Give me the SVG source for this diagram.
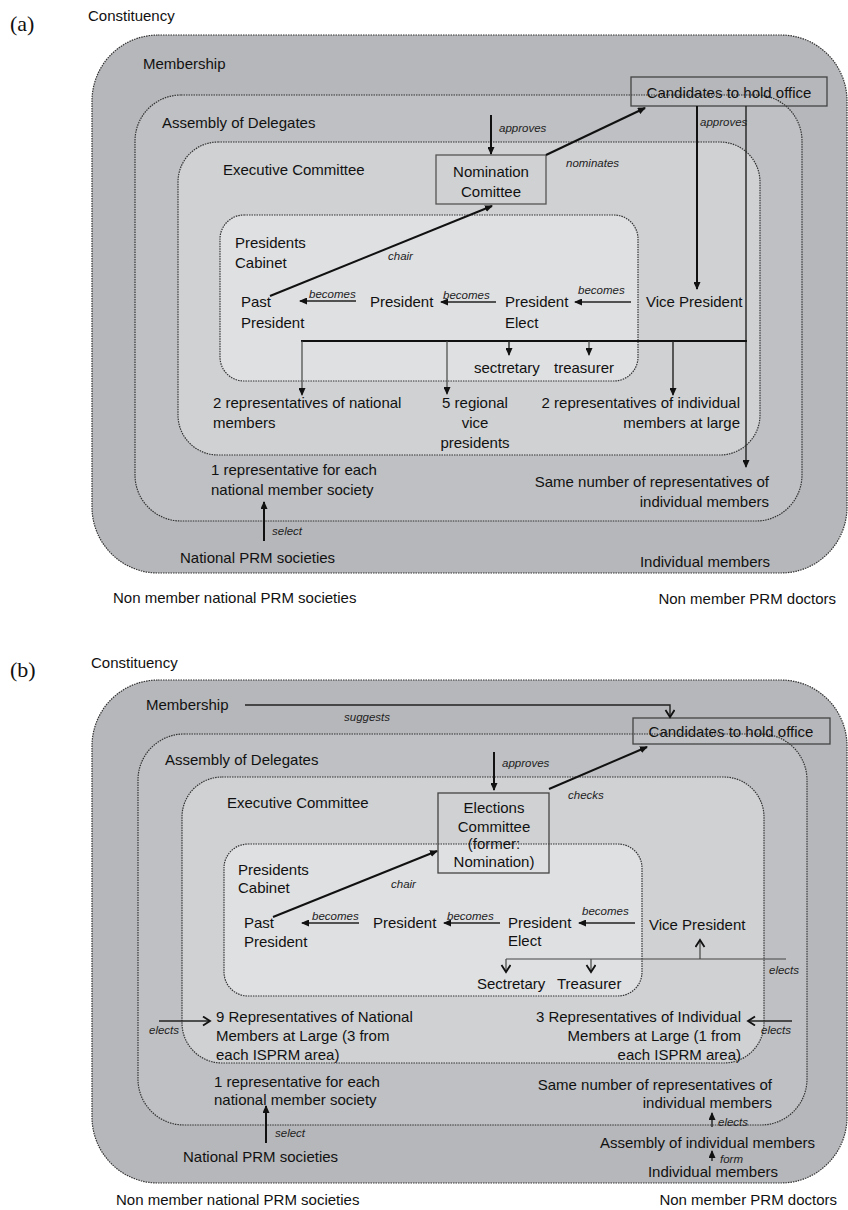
<svg xmlns="http://www.w3.org/2000/svg" width="848" height="1210" viewBox="0 0 848 1210">
<defs>
<style>
.t{font-family:"Liberation Sans",Arial,sans-serif;font-size:15px;fill:#111}
.i{font-family:"Liberation Sans",Arial,sans-serif;font-size:11.5px;font-style:italic;fill:#222}
.m{text-anchor:middle}
.e{text-anchor:end}
.lab{font-family:"Liberation Serif","Times New Roman",serif;font-size:22px;fill:#111}
.c1{fill:#b6b7ba;stroke:#333;stroke-width:1.2;stroke-dasharray:1.5 1}
.c2{fill:#bec0c3;stroke:#333;stroke-width:1.2;stroke-dasharray:1.5 1}
.c3{fill:#d0d1d3;stroke:#333;stroke-width:1.2;stroke-dasharray:1.5 1}
.c4{fill:#dfe0e2;stroke:#333;stroke-width:1.2;stroke-dasharray:1.5 1}
.box{fill:none;stroke:#444;stroke-width:1.3}
.bx2{fill:#d0d1d3;stroke:#555;stroke-width:1.3}
.k{fill:none;stroke:#111;stroke-width:2}
.k1{fill:none;stroke:#222;stroke-width:1.4}
.g{fill:none;stroke:#444;stroke-width:1.2}
</style>
<marker id="a" markerUnits="userSpaceOnUse" markerWidth="8" markerHeight="7" refX="7" refY="3.5" orient="auto">
<path d="M0,0 L8,3.5 L0,7 z" fill="#111"/>
</marker>
<marker id="o" markerUnits="userSpaceOnUse" markerWidth="12" markerHeight="12" refX="8" refY="5" orient="auto">
<path d="M1,0.5 L8,5 L1,9.5" fill="none" stroke="#111" stroke-width="1.8"/>
</marker>
</defs>

<!-- Panel (a) -->
<g id="panel-a">
<text class="lab" x="10" y="31">(a)</text>
<text class="t" x="88" y="21">Constituency</text>
<g id="a-membership"><rect class="c1" x="92" y="35" width="755" height="538" rx="66"/><text class="t" x="143" y="69">Membership</text></g>
<g id="a-assembly"><rect class="c2" x="135" y="95" width="667" height="426" rx="46"/><text class="t" x="162" y="128">Assembly of Delegates</text></g>
<g id="a-executive"><rect class="c3" x="178" y="142" width="582" height="313" rx="40"/><text class="t" x="223" y="175">Executive Committee</text></g>
<g id="a-cabinet"><rect class="c4" x="220" y="215" width="418" height="166" rx="24"/><text class="t" x="235" y="248">Presidents</text><text class="t" x="235" y="268">Cabinet</text></g>
<g id="a-candidates"><rect class="box" x="631" y="77" width="196" height="29"/><text class="t m" x="729" y="98">Candidates to hold office</text></g>
<g id="a-nomination"><rect class="bx2" x="436" y="155" width="110" height="49"/><text class="t m" x="491" y="177">Nomination</text><text class="t m" x="491" y="197">Comittee</text></g>
<g id="a-past"><text class="t" x="241" y="307">Past</text><text class="t" x="241" y="328">President</text></g>
<g id="a-president"><text class="t" x="370" y="307">President</text></g>
<g id="a-elect"><text class="t" x="505" y="307">President</text><text class="t" x="505" y="328">Elect</text></g>
<g id="a-vice"><text class="t" x="646" y="307">Vice President</text></g>
<g id="a-secretary"><text class="t" x="474" y="373">sectretary</text></g>
<g id="a-treasurer"><text class="t" x="554" y="373">treasurer</text></g>
<g id="a-natrep"><text class="t" x="213" y="408">2 representatives of national</text><text class="t" x="213" y="428">members</text></g>
<g id="a-regional"><text class="t m" x="475" y="408">5 regional</text><text class="t m" x="475" y="428">vice</text><text class="t m" x="475" y="448">presidents</text></g>
<g id="a-indrep"><text class="t e" x="740" y="408">2 representatives of individual</text><text class="t e" x="740" y="428">members at large</text></g>
<g id="a-onerep"><text class="t" x="211" y="475">1 representative for each</text><text class="t" x="211" y="495">national member society</text></g>
<g id="a-samenum"><text class="t e" x="769" y="487">Same number of representatives of</text><text class="t e" x="769" y="507">individual members</text></g>
<g id="a-national"><text class="t" x="180" y="563">National PRM societies</text></g>
<g id="a-individual"><text class="t e" x="770" y="567">Individual members</text></g>
<g id="a-nonnat"><text class="t" x="113" y="603">Non member national PRM societies</text></g>
<g id="a-nondoc"><text class="t e" x="836" y="604">Non member PRM doctors</text></g>
</g>

<g id="connectors-a">
<line class="k" x1="491" y1="115" x2="491" y2="154" marker-end="url(#a)"/>
<text class="i" x="499" y="132">approves</text>
<line class="k" x1="546" y1="155" x2="645" y2="108" marker-end="url(#a)"/>
<text class="i" x="566" y="167">nominates</text>
<line class="k" x1="697" y1="106" x2="697" y2="289" marker-end="url(#a)"/>
<text class="i" x="700" y="126">approves</text>
<line class="k1" x1="746" y1="106" x2="746" y2="467" marker-end="url(#a)"/>
<line class="k" x1="301" y1="341" x2="747" y2="341"/>
<line class="g" x1="302" y1="341" x2="302" y2="395" marker-end="url(#a)"/>
<line class="g" x1="447" y1="341" x2="447" y2="394" marker-end="url(#a)"/>
<line class="k1" x1="509" y1="341" x2="509" y2="355" marker-end="url(#a)"/>
<line class="g" x1="589" y1="341" x2="589" y2="355" marker-end="url(#a)"/>
<line class="k1" x1="673" y1="341" x2="673" y2="395" marker-end="url(#a)"/>
<line class="k1" x1="356" y1="301" x2="300" y2="301" marker-end="url(#a)"/>
<text class="i" x="309" y="298">becomes</text>
<line class="k1" x1="496" y1="302" x2="441" y2="302" marker-end="url(#a)"/>
<text class="i" x="443" y="299">becomes</text>
<line class="k1" x1="631" y1="302" x2="575" y2="302" marker-end="url(#a)"/>
<text class="i" x="578" y="294">becomes</text>
<line class="k" x1="270" y1="296" x2="492" y2="206" marker-end="url(#a)"/>
<text class="i" x="388" y="260">chair</text>
<line class="k" x1="264" y1="541" x2="264" y2="502" marker-end="url(#a)"/>
<text class="i" x="272" y="535">select</text>
</g>

<!-- Panel (b) -->
<g id="panel-b">
<text class="lab" x="10" y="677">(b)</text>
<text class="t" x="91" y="668">Constituency</text>
<g id="b-membership"><rect class="c1" x="92" y="680" width="755" height="503" rx="66"/><text class="t" x="146" y="710">Membership</text></g>
<g id="b-assembly"><rect class="c2" x="138" y="734" width="669" height="391" rx="46"/><text class="t" x="165" y="765">Assembly of Delegates</text></g>
<g id="b-executive"><rect class="c3" x="182" y="777" width="582" height="286" rx="40"/><text class="t" x="227" y="808">Executive Committee</text></g>
<g id="b-cabinet"><rect class="c4" x="224" y="844" width="418" height="152" rx="24"/><text class="t" x="238" y="875">Presidents</text><text class="t" x="238" y="893">Cabinet</text></g>
<g id="b-candidates"><rect class="box" x="633" y="718" width="197" height="26"/><text class="t m" x="731" y="737">Candidates to hold office</text></g>
<g id="b-elections"><rect class="box" x="438" y="793" width="111" height="80"/><text class="t m" x="494" y="813">Elections</text><text class="t m" x="494" y="832">Committee</text><text class="t m" x="494" y="849">(former:</text><text class="t m" x="494" y="867">Nomination)</text></g>
<g id="b-past"><text class="t" x="244" y="928">Past</text><text class="t" x="244" y="947">President</text></g>
<g id="b-president"><text class="t" x="373" y="928">President</text></g>
<g id="b-elect"><text class="t" x="508" y="928">President</text><text class="t" x="508" y="946">Elect</text></g>
<g id="b-vice"><text class="t" x="649" y="930">Vice President</text></g>
<g id="b-secretary"><text class="t" x="477" y="989">Sectretary</text></g>
<g id="b-treasurer"><text class="t" x="557" y="989">Treasurer</text></g>
<g id="b-natrep"><text class="t" x="216" y="1022">9 Representatives of National</text><text class="t" x="216" y="1041">Members at Large (3 from</text><text class="t" x="216" y="1060">each ISPRM area)</text></g>
<g id="b-indrep"><text class="t e" x="741" y="1022">3 Representatives of Individual</text><text class="t e" x="741" y="1041">Members at Large (1 from</text><text class="t e" x="741" y="1060">each ISPRM area)</text></g>
<g id="b-onerep"><text class="t" x="214" y="1087">1 representative for each</text><text class="t" x="214" y="1105">national member society</text></g>
<g id="b-samenum"><text class="t e" x="772" y="1090">Same number of representatives of</text><text class="t e" x="772" y="1108">individual members</text></g>
<g id="b-national"><text class="t" x="183" y="1162">National PRM societies</text></g>
<g id="b-assemblyind"><text class="t e" x="815" y="1148">Assembly of individual members</text></g>
<g id="b-individual"><text class="t e" x="778" y="1177">Individual members</text></g>
<g id="b-nonnat"><text class="t" x="116" y="1205">Non member national PRM societies</text></g>
<g id="b-nondoc"><text class="t e" x="837" y="1205">Non member PRM doctors</text></g>
</g>

<g id="connectors-b">
<polyline class="k1" points="245,705 670,705 670,717" marker-end="url(#o)"/>
<text class="i" x="344" y="721">suggests</text>
<line class="k" x1="494" y1="752" x2="494" y2="790" marker-end="url(#a)"/>
<text class="i" x="502" y="767">approves</text>
<line class="k" x1="549" y1="789" x2="647" y2="747" marker-end="url(#a)"/>
<text class="i" x="568" y="799">checks</text>
<line class="k" x1="273" y1="917" x2="437" y2="851" marker-end="url(#a)"/>
<text class="i" x="391" y="888">chair</text>
<line class="k1" x1="359" y1="923" x2="302" y2="923" marker-end="url(#a)"/>
<text class="i" x="312" y="920">becomes</text>
<line class="k1" x1="500" y1="923" x2="444" y2="923" marker-end="url(#a)"/>
<text class="i" x="447" y="920">becomes</text>
<line class="k1" x1="635" y1="923" x2="579" y2="923" marker-end="url(#a)"/>
<text class="i" x="582" y="915">becomes</text>
<line class="g" x1="506" y1="959" x2="786" y2="959"/>
<line class="g" x1="506" y1="959" x2="506" y2="972" marker-end="url(#o)"/>
<line class="g" x1="591" y1="959" x2="591" y2="972" marker-end="url(#o)"/>
<line class="g" x1="700" y1="959" x2="700" y2="940" marker-end="url(#o)"/>
<text class="i" x="769" y="974">elects</text>
<line class="k1" x1="159" y1="1021" x2="210" y2="1021" marker-end="url(#o)"/>
<text class="i" x="149" y="1034">elects</text>
<line class="k1" x1="792" y1="1021" x2="748" y2="1021" marker-end="url(#o)"/>
<text class="i" x="761" y="1034">elects</text>
<line class="k" x1="266" y1="1143" x2="266" y2="1106" marker-end="url(#a)"/>
<text class="i" x="275" y="1137">select</text>
<line class="k1" x1="712" y1="1127" x2="712" y2="1113" marker-end="url(#a)"/>
<text class="i" x="718" y="1126">elects</text>
<line class="k1" x1="712" y1="1161" x2="712" y2="1151" marker-end="url(#a)"/>
<text class="i" x="720" y="1163">form</text>
</g>
</svg>
